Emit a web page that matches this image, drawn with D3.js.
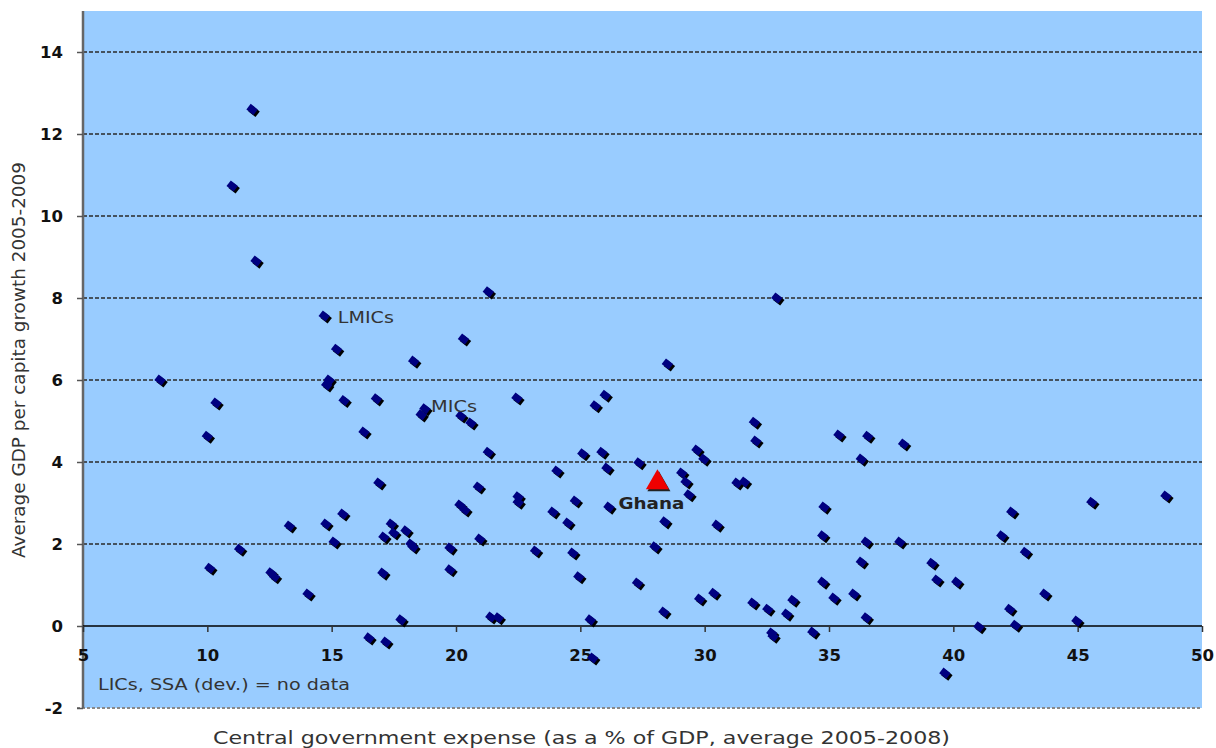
<!DOCTYPE html>
<html>
<head>
    <meta charset="utf-8">
    <script src="https://d3js.org/d3.v7.min.js"></script>
    <style>
        body { margin: 0; background: #fff; }
        text { font-family: "DejaVu Sans", Verdana, sans-serif; }
    </style>
</head>
<body>
    <div id="chart"></div>
    <script>
        // expense (% of GDP) vs growth, one entry per country
        var expense = [11.8, 11.0, 11.96, 21.3, 32.9, 14.7, 15.2, 20.3, 18.3, 8.1,
            14.9, 14.8, 10.35, 15.5, 16.8, 18.6, 18.75, 20.2, 20.6, 16.3,
            10.0, 21.3, 16.9, 22.45, 26.0, 25.6, 28.5, 32.0, 32.06, 35.4,
            36.56, 36.3, 25.1, 25.87, 26.07, 24.06, 27.36, 29.69, 29.97, 29.08,
            29.25, 29.37, 31.3, 31.6, 22.5, 22.5, 24.8, 26.15, 23.9, 24.5,
            28.4, 30.5, 34.8, 34.75, 36.5, 36.3, 28.0, 23.2, 24.7, 24.94,
            27.3, 34.75, 29.8, 30.37, 35.2, 36.0, 31.94, 32.54, 33.55, 33.3,
            28.36, 25.4, 36.5, 32.7, 32.75, 34.35, 25.5, 10.1, 11.3, 12.56,
            12.7, 13.3, 14.05, 14.77, 15.1, 15.45, 16.5, 17.18, 17.06, 17.1,
            17.4, 17.5, 17.99, 18.19, 18.27, 17.79, 19.76, 19.76, 20.16, 20.36,
            20.96, 21.4, 21.7, 20.9, 38.0, 37.85, 39.14, 39.34, 40.14, 39.66,
            41.03, 42.35, 41.95, 42.9, 43.68, 42.27, 42.5, 44.97, 45.57, 48.55];
        var growth = [12.6, 10.73, 8.9, 8.15, 8.0, 7.56, 6.75, 7.0, 6.46, 6.0,
            6.0, 5.88, 5.44, 5.5, 5.54, 5.15, 5.3, 5.12, 4.95, 4.73,
            4.63, 4.24, 3.49, 5.56, 5.63, 5.37, 6.39, 4.97, 4.51, 4.66,
            4.63, 4.07, 4.2, 4.24, 3.85, 3.78, 3.98, 4.29, 4.07, 3.73,
            3.51, 3.2, 3.49, 3.51, 3.15, 3.02, 3.05, 2.9, 2.78, 2.51,
            2.54, 2.46, 2.9, 2.2, 2.05, 1.56, 1.93, 1.83, 1.78, 1.2,
            1.05, 1.07, 0.66, 0.8, 0.68, 0.78, 0.56, 0.41, 0.63, 0.29,
            0.34, 0.15, 0.2, -0.17, -0.25, -0.15, -0.78, 1.41, 1.87, 1.3,
            1.2, 2.44, 0.78, 2.49, 2.05, 2.73, -0.29, -0.39, 1.29, 2.17,
            2.49, 2.27, 2.32, 2.0, 1.93, 0.15, 1.9, 1.37, 2.95, 2.83,
            2.12, 0.22, 0.2, 3.39, 4.44, 2.05, 1.53, 1.12, 1.07, -1.15,
            -0.02, 2.78, 2.2, 1.8, 0.78, 0.41, 0.02, 0.12, 3.02, 3.17];

        var ghana = [28.1, 3.5];
        var xTicks = [5, 10, 15, 20, 25, 30, 35, 40, 45, 50];
        var yTicks = [-2, 0, 2, 4, 6, 8, 10, 12, 14];
        var notes = [
            { x: 15.25, y: 7.38, text: "LMICs", len: 56 },
            { x: 19.0, y: 5.23, text: "MICs", len: 46 }
        ];

        var width = 1216, height = 748;
        var svg = d3.select("#chart").append("svg")
            .attr("width", width)
            .attr("height", height);

        var x = d3.scaleLinear().domain([5, 50]).range([83, 1202]);
        var y = d3.scaleLinear().domain([-2, 15]).range([708, 11]);

        // plot background
        svg.append("rect")
            .attr("x", x(5)).attr("y", y(15))
            .attr("width", x(50) - x(5)).attr("height", y(-2) - y(15))
            .attr("fill", "#99ccff");

        // dashed grid lines
        svg.append("g")
            .selectAll("line")
            .data(yTicks.filter(function (d) { return d > 0; }))
            .join("line")
            .attr("x1", x(5)).attr("x2", x(50))
            .attr("y1", function (d) { return y(d); })
            .attr("y2", function (d) { return y(d); })
            .attr("stroke", "#2a2a2a")
            .attr("stroke-width", 1.5)
            .attr("stroke-dasharray", "4,2");

        // bottom border at -2
        svg.append("line")
            .attr("x1", x(5) - 6).attr("x2", x(50))
            .attr("y1", y(-2)).attr("y2", y(-2))
            .attr("stroke", "#888")
            .attr("stroke-width", 2)
            .attr("stroke-dasharray", "3,2");

        // y axis
        var yAxis = svg.append("g")
            .attr("transform", "translate(" + x(5) + ",0)")
            .call(d3.axisLeft(y).tickValues(yTicks).tickSize(6).tickPadding(14)
                .tickFormat(function (d) { return String(d); }));
        yAxis.select(".domain").attr("stroke", "#666").attr("stroke-width", 2.5)
            .attr("d", "M0," + y(15) + "V" + y(-2));
        yAxis.selectAll(".tick line").attr("stroke", "#555").attr("stroke-width", 1.5);
        yAxis.selectAll("text")
            .attr("font-size", 16.5).attr("font-weight", "bold").attr("fill", "#111");

        // x axis at y = 0
        var xAxis = svg.append("g")
            .attr("transform", "translate(0," + y(0) + ")")
            .call(d3.axisBottom(x).tickValues(xTicks).tickSize(6).tickPadding(17));
        xAxis.select(".domain").attr("stroke", "#000").attr("stroke-width", 1.5)
            .attr("d", "M" + x(5) + ",0H" + x(50));
        xAxis.selectAll(".tick line").attr("stroke", "#333").attr("stroke-width", 1.5);
        xAxis.selectAll("text")
            .attr("font-size", 16.5).attr("font-weight", "bold").attr("fill", "#111");

        // diamond markers with black shadow
        var pts = expense.map(function (d, i) { return [d, growth[i]]; });
        var marks = svg.append("g");
        marks.selectAll(".shadow")
            .data(pts)
            .join("rect")
            .attr("class", "shadow")
            .attr("x", -4.5).attr("y", -3.5)
            .attr("width", 9).attr("height", 7)
            .attr("fill", "#000")
            .attr("transform", function (d) {
                return "translate(" + (x(d[0]) + 2) + "," + (y(d[1]) + 2) + ") rotate(38)";
            });
        marks.selectAll(".dot")
            .data(pts)
            .join("rect")
            .attr("class", "dot")
            .attr("x", -4.5).attr("y", -3.5)
            .attr("width", 9).attr("height", 7)
            .attr("fill", "#000080")
            .attr("transform", function (d) {
                return "translate(" + x(d[0]) + "," + y(d[1]) + ") rotate(38)";
            });

        // Ghana
        var tri = d3.symbol().type(d3.symbolTriangle).size(230);
        svg.append("path")
            .attr("d", tri())
            .attr("fill", "#222")
            .attr("transform", "translate(" + (x(ghana[0]) + 1.5) + "," + (y(ghana[1]) + 2) + ")");
        svg.append("path")
            .attr("d", tri())
            .attr("fill", "#ee0000")
            .attr("transform", "translate(" + x(ghana[0]) + "," + y(ghana[1]) + ")");
        svg.append("text")
            .attr("x", x(ghana[0]) - 39).attr("y", y(ghana[1]) + 26)
            .attr("font-size", 16.5).attr("font-weight", "bold").attr("fill", "#222")
            .attr("textLength", 66).attr("lengthAdjust", "spacingAndGlyphs")
            .text("Ghana");

        // group labels
        svg.append("g")
            .selectAll("text")
            .data(notes)
            .join("text")
            .attr("x", function (d) { return x(d.x); })
            .attr("y", function (d) { return y(d.y); })
            .attr("font-size", 16.5).attr("fill", "#333")
            .attr("textLength", function (d) { return d.len; })
            .attr("lengthAdjust", "spacingAndGlyphs")
            .text(function (d) { return d.text; });

        svg.append("text")
            .attr("x", 98).attr("y", 690)
            .attr("font-size", 16.5).attr("fill", "#333")
            .attr("textLength", 252).attr("lengthAdjust", "spacingAndGlyphs")
            .text("LICs, SSA (dev.) = no data");

        // axis titles
        svg.append("text")
            .attr("x", 213).attr("y", 744)
            .attr("font-size", 17).attr("fill", "#333")
            .attr("textLength", 737).attr("lengthAdjust", "spacingAndGlyphs")
            .text("Central government expense (as a % of GDP, average 2005-2008)");

        svg.append("text")
            .attr("transform", "translate(25,558) rotate(-90)")
            .attr("font-size", 17).attr("fill", "#333")
            .attr("textLength", 396).attr("lengthAdjust", "spacingAndGlyphs")
            .text("Average GDP per capita growth 2005-2009");
    </script>
</body>
</html>
